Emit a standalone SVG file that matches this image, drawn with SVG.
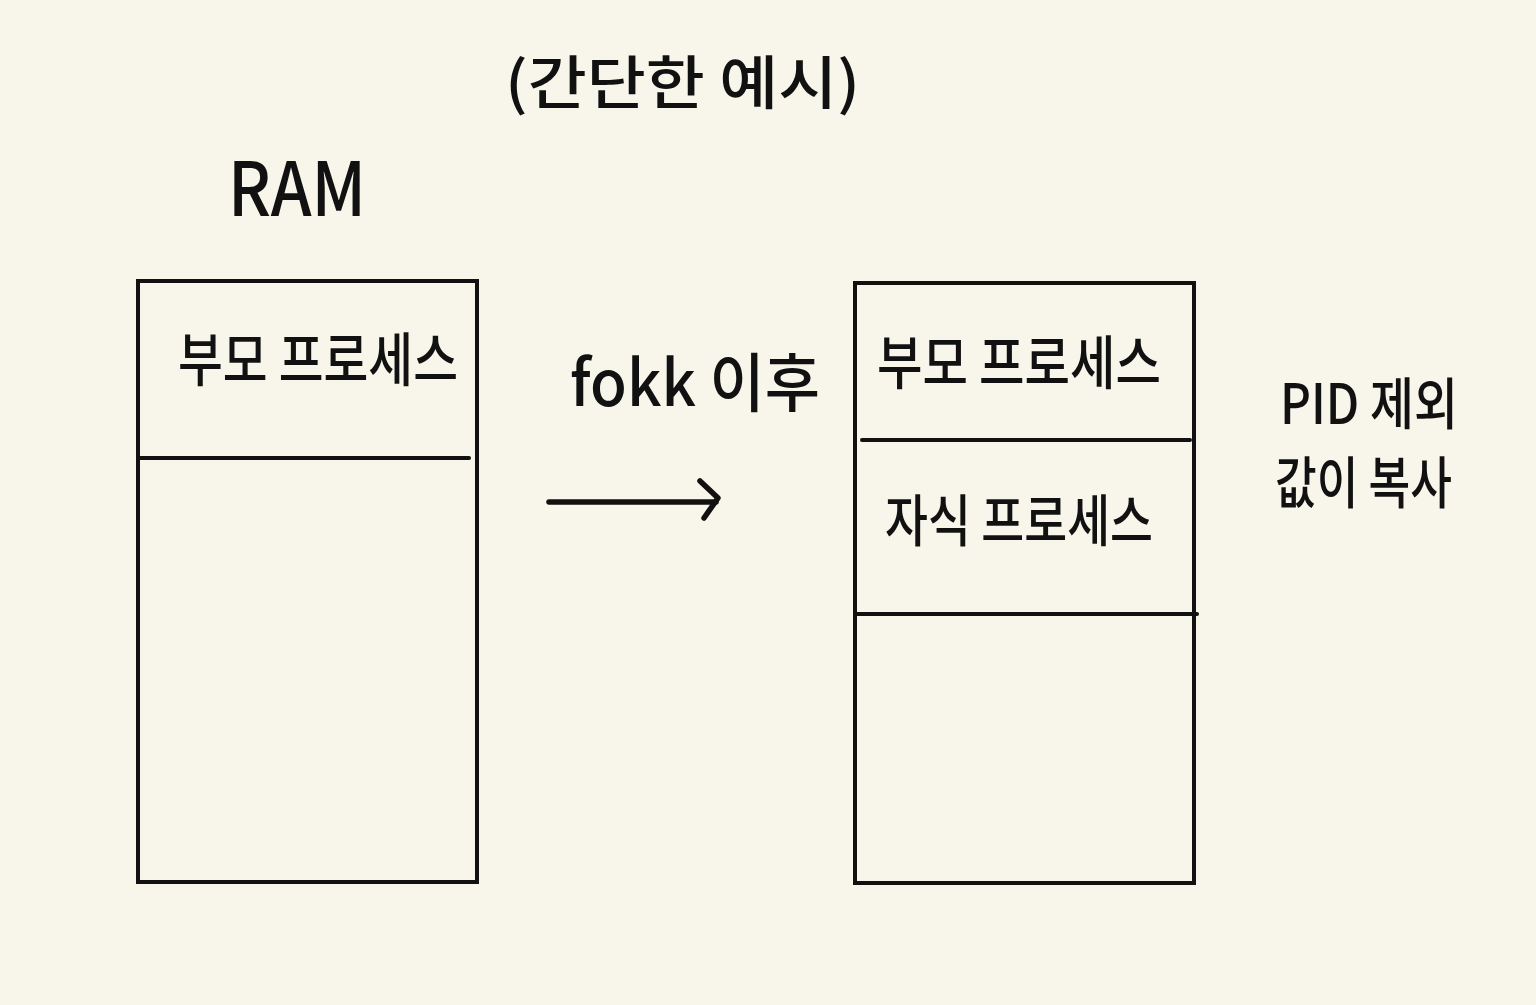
<svg xmlns="http://www.w3.org/2000/svg" width="1536" height="1005" viewBox="0 0 1536 1005">
<style>
.t{font-family:"Noto Sans CJK KR","Noto Sans",sans-serif;fill:#111;font-weight:500}
.box{fill:none;stroke:#111;stroke-width:4}
.ln{fill:none;stroke:#111;stroke-width:4;stroke-linecap:round;stroke-linejoin:round}
.arr{fill:none;stroke:#111;stroke-width:5.5;stroke-linecap:round;stroke-linejoin:round}
</style>
<rect width="1536" height="1005" fill="#f8f6ea"/>
<g id="title"><text class="t" x="505" y="104" font-size="58" textLength="355" lengthAdjust="spacingAndGlyphs">(간단한 예시)</text></g>
<g id="ram-label"><text class="t" x="228" y="216" font-size="74" font-weight="400" textLength="138" lengthAdjust="spacingAndGlyphs">RAM</text></g>
<g id="ram-before">
<rect class="box" x="138" y="281" width="339" height="601"/>
<line class="ln" x1="140" y1="458" x2="469" y2="458"/>
<text class="t" x="178" y="381" font-size="58" textLength="280" lengthAdjust="spacingAndGlyphs">부모 프로세스</text>
</g>
<g id="ram-after">
<rect class="box" x="855" y="283" width="339" height="600"/>
<line class="ln" x1="862" y1="440" x2="1190" y2="440"/>
<line class="ln" x1="857" y1="614" x2="1197" y2="614"/>
<text class="t" x="877" y="384" font-size="58" textLength="284" lengthAdjust="spacingAndGlyphs">부모 프로세스</text>
<text class="t" x="885" y="541" font-size="56" textLength="268" lengthAdjust="spacingAndGlyphs">자식 프로세스</text>
</g>
<g id="connectors">
<line class="arr" x1="549" y1="502" x2="716" y2="502"/>
<polyline class="arr" points="700,481 718,498 704,518"/>
<text class="t" x="570" y="406" font-size="64" textLength="250" lengthAdjust="spacingAndGlyphs">fokk 이후</text>
</g>
<g id="note">
<text class="t" x="1280" y="424" font-size="56" textLength="178" lengthAdjust="spacingAndGlyphs">PID 제외</text>
<text class="t" x="1275" y="503" font-size="56" textLength="177" lengthAdjust="spacingAndGlyphs">값이 복사</text>
</g>
</svg>
